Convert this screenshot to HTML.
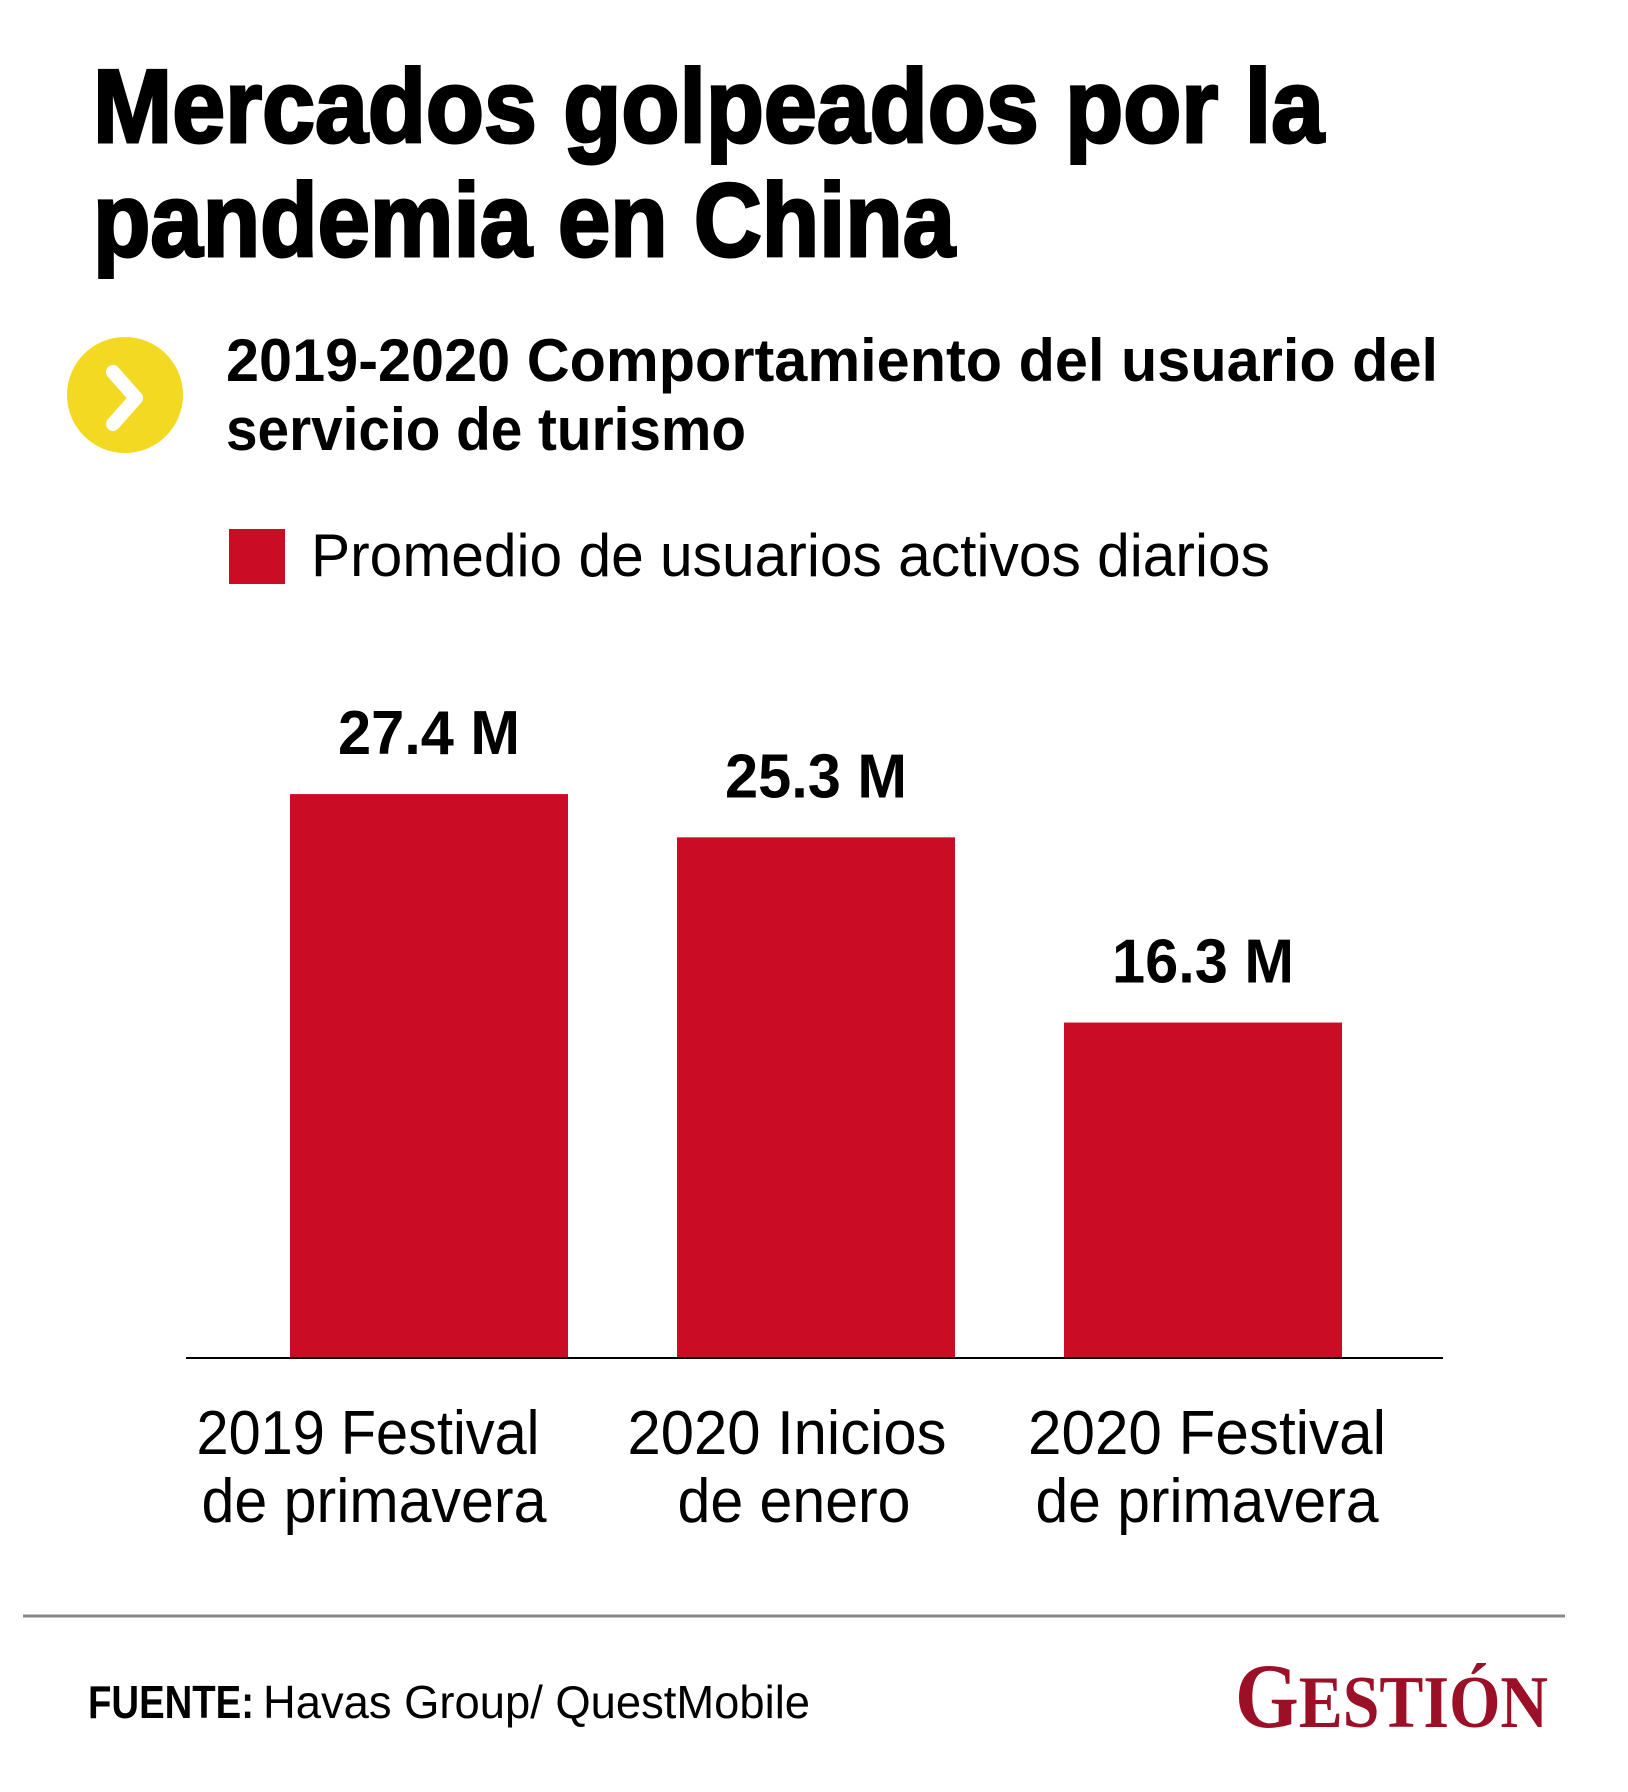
<!DOCTYPE html>
<html><head><meta charset="utf-8"><style>
html,body{margin:0;padding:0;background:#fff;}
svg{display:block;}
text{font-family:"Liberation Sans",sans-serif;}
</style></head><body>
<svg id="chart" width="1628" height="1792" viewBox="0 0 1628 1792" xmlns="http://www.w3.org/2000/svg">
<rect width="1628" height="1792" fill="#fff"/>
<g font-weight="bold" fill="#000" stroke="#000" stroke-width="3">
<text x="93" y="142" font-size="104" textLength="1231" lengthAdjust="spacingAndGlyphs">Mercados golpeados por la</text>
<text x="93" y="256" font-size="104" textLength="862" lengthAdjust="spacingAndGlyphs">pandemia en China</text>
</g>
<g>
<ellipse cx="125" cy="395" rx="58" ry="58" fill="#f4d923"/>
<path d="M113 372 L136 398 L113 424" fill="none" stroke="#fff" stroke-width="14" stroke-linecap="round" stroke-linejoin="round"/>
</g>
<g font-weight="bold" fill="#000">
<text x="226" y="381" font-size="60" textLength="1212" lengthAdjust="spacingAndGlyphs">2019-2020 Comportamiento del usuario del</text>
<text x="226" y="450" font-size="60" textLength="520" lengthAdjust="spacingAndGlyphs">servicio de turismo</text>
</g>
<g>
<rect x="229" y="529" width="56" height="55" fill="#cb0c25"/>
<text x="311" y="576" font-size="60" fill="#000" textLength="959" lengthAdjust="spacingAndGlyphs">Promedio de usuarios activos diarios</text>
</g>
<g id="bars"></g>
<line x1="186" y1="1358" x2="1443" y2="1358" stroke="#000" stroke-width="2"/>
<g id="cats"></g>
<line x1="23" y1="1616" x2="1565" y2="1616" stroke="#888" stroke-width="3"/>
<g fill="#000" font-size="46">
<text x="88" y="1718" font-weight="bold" textLength="166" lengthAdjust="spacingAndGlyphs">FUENTE:</text>
<text x="263" y="1718" textLength="547" lengthAdjust="spacingAndGlyphs">Havas Group/ QuestMobile</text>
</g>
<g fill="#9b1027" font-family="Liberation Serif, serif" font-weight="bold">
<text x="1235" y="1727" font-size="92" style="font-family:'Liberation Serif',serif" textLength="313" lengthAdjust="spacingAndGlyphs"><tspan font-size="92">G</tspan><tspan font-size="74">ESTIÓN</tspan></text>
</g>
</svg>
<script>
const categories = [["2019 Festival","de primavera"],["2020 Inicios","de enero"],["2020 Festival","de primavera"]];
const values = [27.4, 25.3, 16.3];
const valueLabels = ["27.4 M","25.3 M","16.3 M"];

const NS = "http://www.w3.org/2000/svg";
const baseY = 1358, pxPerUnit = 20.58;
const firstLeft = 290, step = 387, barW = 278;
function yScale(v){ return baseY - v * pxPerUnit; }
function xLeft(i){ return firstLeft + i * step; }
const bars = document.getElementById('bars');
const cats = document.getElementById('cats');
values.forEach((v, i) => {
  const r = document.createElementNS(NS, 'rect');
  
  
  r.setAttribute('x', xLeft(i));
  r.setAttribute('y', yScale(v));
  r.setAttribute('width', barW);
  r.setAttribute('height', baseY - yScale(v));
  r.setAttribute('fill', '#cb0c25');
  bars.appendChild(r);
  const t = document.createElementNS(NS, 'text');
  
  
  t.setAttribute('x', xLeft(i) + barW / 2);
  t.setAttribute('y', yScale(v) - 40);
  t.setAttribute('text-anchor', 'middle');
  t.setAttribute('font-size', '62');
  t.setAttribute('font-weight', 'bold');
  t.setAttribute('textLength', '182');
  t.setAttribute('lengthAdjust', 'spacingAndGlyphs');
  t.textContent = valueLabels[i];
  bars.appendChild(t);
  categories[i].forEach((line, j) => {
    const c = document.createElementNS(NS, 'text');
    
    
    c.setAttribute('x', xLeft(i) + barW / 2 - 60 + i * 50 + (j===0?0:0));
    c.setAttribute('y', 1454 + j * 68);
    c.setAttribute('text-anchor', 'middle');
    c.setAttribute('font-size', '62');
    c.textContent = line;
    cats.appendChild(c);
  });
});
// fit category label widths
const targetW = [[343,345],[319,233],[358,343]];
const centers = [[368,374],[787,794],[1207,1207]];
Array.from(cats.children).forEach((c, k) => {
  const i = Math.floor(k / 2), j = k % 2;
  c.setAttribute('x', centers[i][j]);
  c.setAttribute('textLength', targetW[i][j]);
  c.setAttribute('lengthAdjust', 'spacingAndGlyphs');
});
</script>
</body></html>
